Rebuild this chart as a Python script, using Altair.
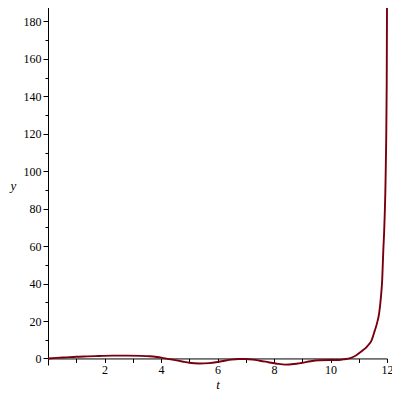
import altair as alt
import pandas as pd

# Values
t_values = [0, 0.3, 0.65, 1.0, 1.4, 1.8, 2.3, 2.8, 3.3, 3.6, 3.85, 4.1, 4.4, 4.75,
            5.0, 5.35, 5.7, 6.0, 6.25, 6.5, 6.75, 7.0, 7.25, 7.5, 7.8, 8.1, 8.4,
            8.7, 9.0, 9.3, 9.6, 10.0, 10.3, 10.5, 10.7, 10.9, 11.1, 11.3, 11.45,
            11.57, 11.65, 11.72, 11.78, 11.83, 11.87, 11.9, 11.92, 11.94, 11.95,
            11.97, 11.99, 12.0]
y_values = [0, 0.3, 0.6, 0.9, 1.1, 1.3, 1.5, 1.5, 1.4, 1.2, 0.8, 0.2, -0.6, -1.6,
            -2.3, -2.7, -2.5, -1.9, -1.2, -0.6, -0.3, -0.3, -0.6, -1.2, -2.0, -2.8,
            -3.3, -3.0, -2.3, -1.5, -1.0, -0.8, -0.8, -0.4, 0.2, 1.6, 3.8, 6.5, 9.5,
            15, 19, 24, 32, 42, 58, 68, 77, 88, 96, 115, 147, 188]
x_ticks = list(range(1, 13))
y_ticks = list(range(0, 190, 10))

df = pd.DataFrame({"t": t_values, "y": y_values})

W, H = 339, 360
YMIN, YMAX = -3.5, 188.8
x_axis_offset = -H * (0 - YMIN) / (YMAX - YMIN)
FONT = "Liberation Serif"

chart = (
    alt.Chart(df)
    .mark_line(color="#78000E", strokeWidth=1.9, interpolate="monotone")
    .encode(
        x=alt.X(
            "t:Q",
            scale=alt.Scale(domain=[0, 12], nice=False, zero=False),
            axis=alt.Axis(
                values=x_ticks,
                labelExpr="datum.value % 2 === 0 ? datum.label : ''",
                labelOverlap=False,
                labelFlush=False,
                grid=False,
                tickSize=4,
                labelPadding=2,
                offset=x_axis_offset,
                title="t",
                titleFontStyle="italic",
                titlePadding=3,
                labelFont=FONT,
                titleFont=FONT,
            ),
        ),
        y=alt.Y(
            "y:Q",
            scale=alt.Scale(domain=[YMIN, YMAX], nice=False, zero=False),
            axis=alt.Axis(
                values=y_ticks,
                labelExpr="datum.value % 20 === 0 ? datum.label : ''",
                labelOverlap=False,
                labelFlush=False,
                grid=False,
                tickSize={"condition": {"test": "datum.value % 20 === 0", "value": 5}, "value": 3},
                labelPadding=2,
                title="y",
                titleAngle=0,
                titleX=-35,
                titleY=180,
                titleAlign="center",
                titleBaseline="middle",
                titleFontStyle="italic",
                labelFont=FONT,
                titleFont=FONT,
            ),
        ),
    )
    .properties(
        width=W,
        height=H,
        autosize=alt.AutoSizeParams(type="none"),
        padding={"left": 40, "top": -3, "right": 5, "bottom": 27},
    )
    .configure_view(stroke=None)
    .configure_axis(
        domainColor="black",
        tickColor="black",
        labelColor="black",
        labelFont=FONT,
        labelFontSize=12,
        titleFont=FONT,
        titleFontSize=13,
        titleFontWeight="normal",
        titleColor="black",
    )
)

chart.save("out.html", embed_options={"renderer": "svg", "actions": False})
